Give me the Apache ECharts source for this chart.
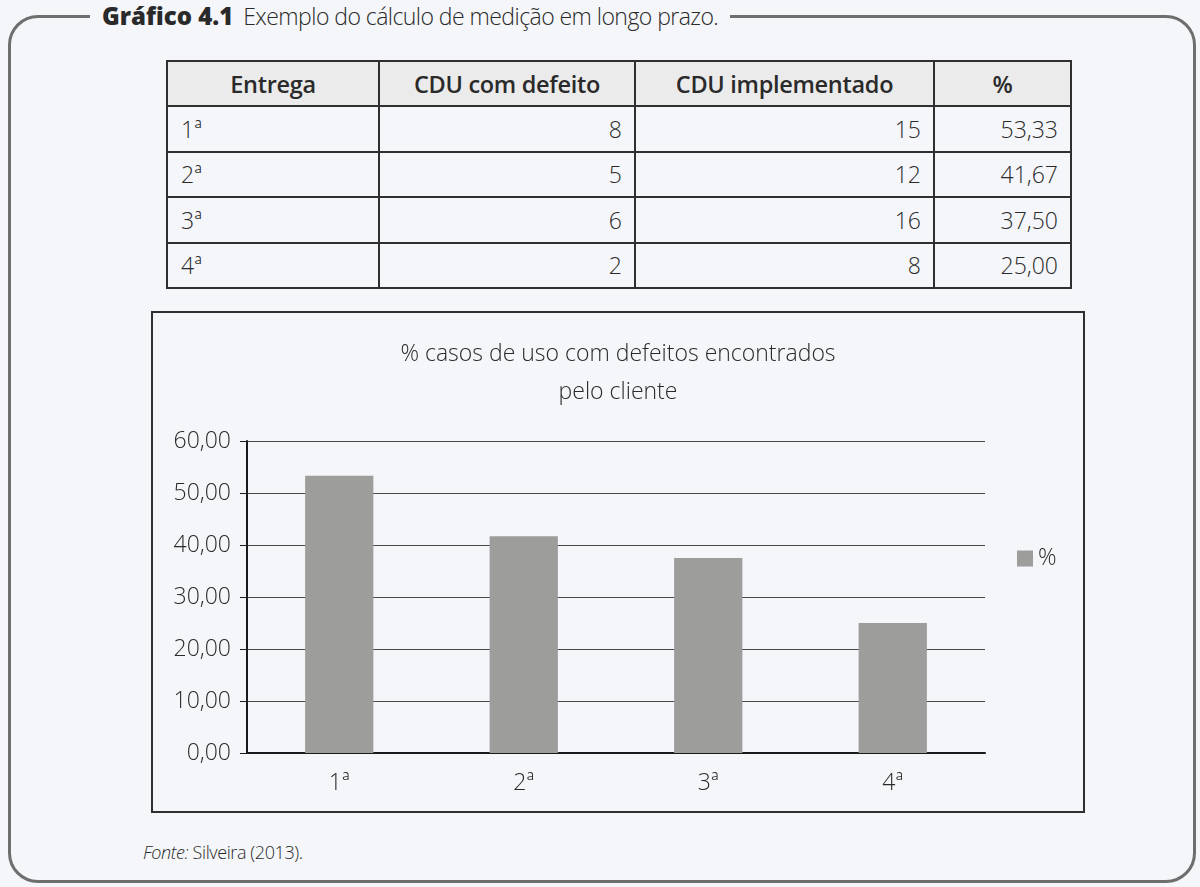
<!DOCTYPE html>
<html>
<head>
<meta charset="utf-8">
<script src="https://cdn.jsdelivr.net/npm/echarts@6/dist/echarts.min.js"></script>
<style>
  html, body { margin:0; padding:0; background:#f4f6f9; width:1200px; height:887px; overflow:hidden; font-family:"Open Sans", sans-serif; color:#2a2a2a; }
  #frame { position:absolute; left:8px; top:15px; width:1188px; height:868px; box-sizing:border-box; border:3px solid #6e6e6e; border-radius:30px; }
  #heading { position:absolute; left:90px; top:0px; height:32px; line-height:32px; background:#f4f6f9; padding:0 12px; font-size:23px; white-space:nowrap; letter-spacing:-0.55px; }
  #heading b { font-weight:800; letter-spacing:0px; margin-right:10px; font-size:24px; }
  #heading span { font-weight:300; }
  table { position:absolute; left:166px; top:60px; border-collapse:collapse; font-size:23px; }
  td, th { border:2px solid #2f2f2f; padding:0 12px; height:45.5px; box-sizing:border-box; }
  th { background:#ebebeb; font-weight:600; height:45px; letter-spacing:-0.3px; font-size:23.5px; }
  td { font-weight:300; text-align:right; }
  td.c0 { text-align:left; padding-left:13px; }
  #chartbox { position:absolute; left:151px; top:311px; width:934px; height:502px; box-sizing:border-box; border:2px solid #2f2f2f; }
  #chart { width:930px; height:498px; }
  #fonte { position:absolute; left:143px; top:840px; font-size:18px; font-weight:300; letter-spacing:-0.4px; }
</style>
</head>
<body>
<div id="frame"></div>
<div id="heading"><b>Gráfico 4.1</b><span>Exemplo do cálculo de medição em longo prazo.</span></div>
<table id="tbl"></table>
<div id="chartbox"><div id="chart"></div></div>
<div id="fonte"><i>Fonte:</i> Silveira (2013).</div>
<script>
const headers = ["Entrega", "CDU com defeito", "CDU implementado", "%"];
const categories = ["1ª", "2ª", "3ª", "4ª"];
const cduDefeito = [8, 5, 6, 2];
const cduImplementado = [15, 12, 16, 8];
const percent = [53.33, 41.67, 37.50, 25.00];
const yTicks = [0, 10, 20, 30, 40, 50, 60];
const chartTitle = "% casos de uso com defeitos encontrados\npelo cliente";
const seriesName = "%";

const colW = [212, 256, 299, 137];
const fmt = v => v.toFixed(2).replace('.', ',');
let html = '<tr>' + headers.map((h, i) => `<th style="width:${colW[i]}px">${h}</th>`).join('') + '</tr>';
categories.forEach((c, i) => {
  html += `<tr><td class="c0">${c}</td><td>${cduDefeito[i]}</td><td>${cduImplementado[i]}</td><td>${fmt(percent[i])}</td></tr>`;
});
document.getElementById('tbl').innerHTML = html;

const FF = '"Open Sans", sans-serif';
const chart = echarts.init(document.getElementById('chart'), null, { renderer: 'canvas' });
chart.setOption({
  backgroundColor: 'transparent',
  animation: false,
  textStyle: { fontFamily: FF },
  title: {
    text: chartTitle,
    left: 'center',
    top: 17,
    textStyle: { fontSize: 23, fontWeight: 300, color: '#2a2a2a', lineHeight: 38, fontFamily: FF }
  },
  legend: {
    data: [seriesName],
    left: 859, top: 229,
    itemWidth: 16, itemHeight: 16, itemGap: 8,
    icon: 'rect',
    textStyle: { fontSize: 23, fontWeight: 300, color: '#2a2a2a', fontFamily: FF }
  },
  grid: { left: 94, top: 128, right: 98, bottom: 58, containLabel: false },
  xAxis: {
    type: 'category',
    data: categories,
    axisLine: { lineStyle: { color: '#1a1a1a', width: 2 } },
    axisTick: { show: false },
    axisLabel: { fontSize: 23, fontWeight: 300, color: '#2a2a2a', margin: 19, fontFamily: FF }
  },
  yAxis: {
    type: 'value',
    min: yTicks[0], max: yTicks[yTicks.length - 1], interval: 10,
    axisLine: { show: true, lineStyle: { color: '#1a1a1a', width: 2 } },
    axisTick: { show: true, length: 7, lineStyle: { color: '#1a1a1a' } },
    splitLine: { lineStyle: { color: '#4a4a4a', width: 1 } },
    axisLabel: { fontSize: 23, fontWeight: 300, color: '#2a2a2a', margin: 16, fontFamily: FF, formatter: v => fmt(v) }
  },
  series: [{
    name: seriesName,
    type: 'bar',
    data: percent,
    barWidth: '37%',
    itemStyle: { color: '#9d9d9b' }
  }]
});
</script>
</body>
</html>
